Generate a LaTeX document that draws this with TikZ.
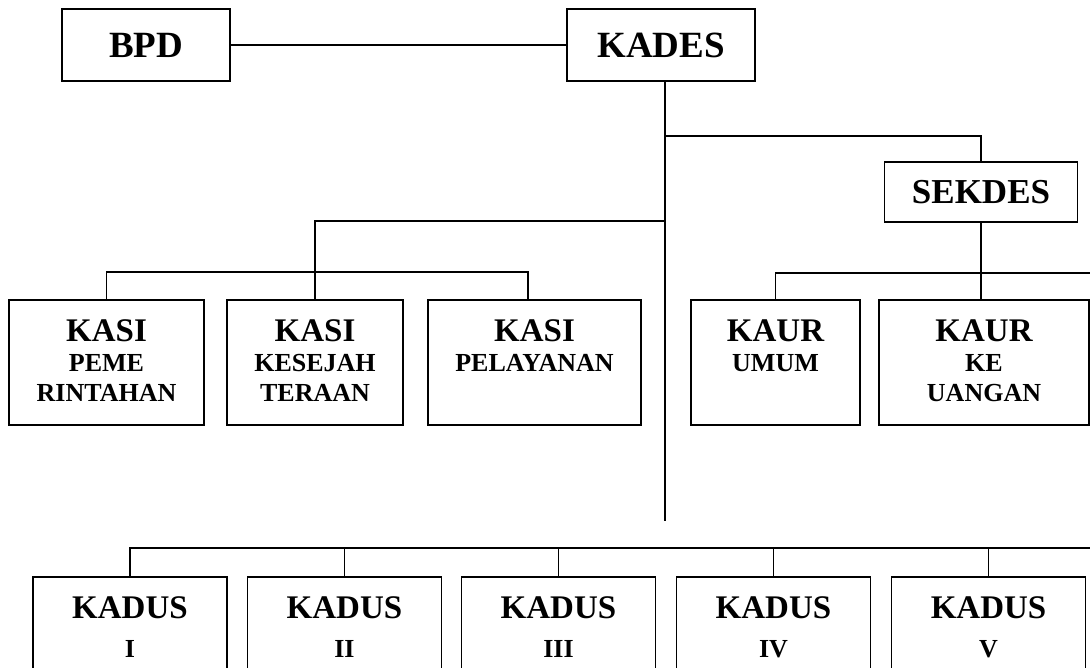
\documentclass[tikz,border=0pt]{standalone}
\usepackage{fontspec}
\setmainfont{Liberation Serif}
\usetikzlibrary{positioning}

\tikzset{
  kotak/.style={draw, line width=1.8pt, inner sep=0pt},
  garis/.style={line width=1.5pt},
  judul/.style={font=\bfseries\fontsize{37}{37}\selectfont},
  isi/.style={font=\bfseries\fontsize{26}{30}\selectfont, align=center, inner sep=0pt, anchor=north},
}
\newcommand{\besar}{\fontsize{33}{33}\selectfont}

\begin{document}
\begin{tikzpicture}[x=1pt, y=-1pt]
\useasboundingbox (0,0) rectangle (1090,667);
\clip (0,0) rectangle (1090,667);

% atas
\node[kotak, judul, minimum width=168pt, minimum height=72pt] (bpd) at (146,45) {BPD};
\node[kotak, judul, minimum width=188pt, minimum height=72pt] (kades) at (661,45) {KADES};
\draw[garis] (bpd) -- (kades);

\coordinate (ujung) at (665,521);
\coordinate (cabang1) at (665,136);
\coordinate (cabang2) at (665,221);
\draw[garis] (ujung |- kades.south) -- (ujung);

% sekdes dan kaur
\node[kotak, judul, font=\bfseries\fontsize{35}{35}\selectfont, minimum width=193pt, minimum height=60pt] (sekdes) at (981,192) {SEKDES};
\draw[garis] (cabang1) -| (sekdes.north);

\node[kotak, minimum width=169pt, minimum height=125pt] (kaur1) at (775.5,362.5) {};
\node[kotak, minimum width=210pt, minimum height=125pt] (kaur2) at (984,362.5) {};
\node[isi, below=20pt of kaur1.north] (tkaur1) {{\besar KAUR}\\UMUM};
\node[isi, below=20pt of kaur2.north] (tkaur2) {{\besar KAUR}\\KE\\UANGAN};
\coordinate (bar2) at (1090,273);
\draw[garis] (sekdes.south) -- (sekdes.south |- kaur2.north);
\draw[garis] (kaur1.north) |- (bar2);

% kasi
\node[kotak, minimum width=195pt, minimum height=125pt] (kasi1) at (106.5,362.5) {};
\node[kotak, minimum width=176pt, minimum height=125pt] (kasi2) at (315,362.5) {};
\node[kotak, minimum width=213pt, minimum height=125pt] (kasi3) at (534.5,362.5) {};
\node[isi, below=20pt of kasi1.north] (tkasi1) {{\besar KASI}\\PEME\\RINTAHAN};
\node[isi, below=20pt of kasi2.north] (tkasi2) {{\besar KASI}\\KESEJAH\\TERAAN};
\node[isi, below=20pt of kasi3.north] (tkasi3) {{\besar KASI}\\PELAYANAN};
\coordinate (bar1) at (528,272);
\draw[garis] (cabang2) -| (kasi2.north);
\draw[garis] (kasi1.north) |- (bar1) -- (bar1 |- kasi3.north);

% kadus
\coordinate (bar3) at (129,548);
\draw[garis] (bar3) -- (1090,548);
\foreach \i/\x/\r in {1/130/I, 2/344.5/II, 3/558.5/III, 4/773.5/IV, 5/988.5/V}{
  \node[kotak, minimum width=194pt, minimum height=130pt] (kadus\i) at (\x,642) {};
  \node[isi, font=\bfseries\fontsize{26}{39}\selectfont, below=20pt of kadus\i.north] (tkadus\i) {{\besar KADUS}\\\r};
  \draw[garis] (kadus\i.north) -- (kadus\i.north |- bar3);
}
\end{tikzpicture}
\end{document}
